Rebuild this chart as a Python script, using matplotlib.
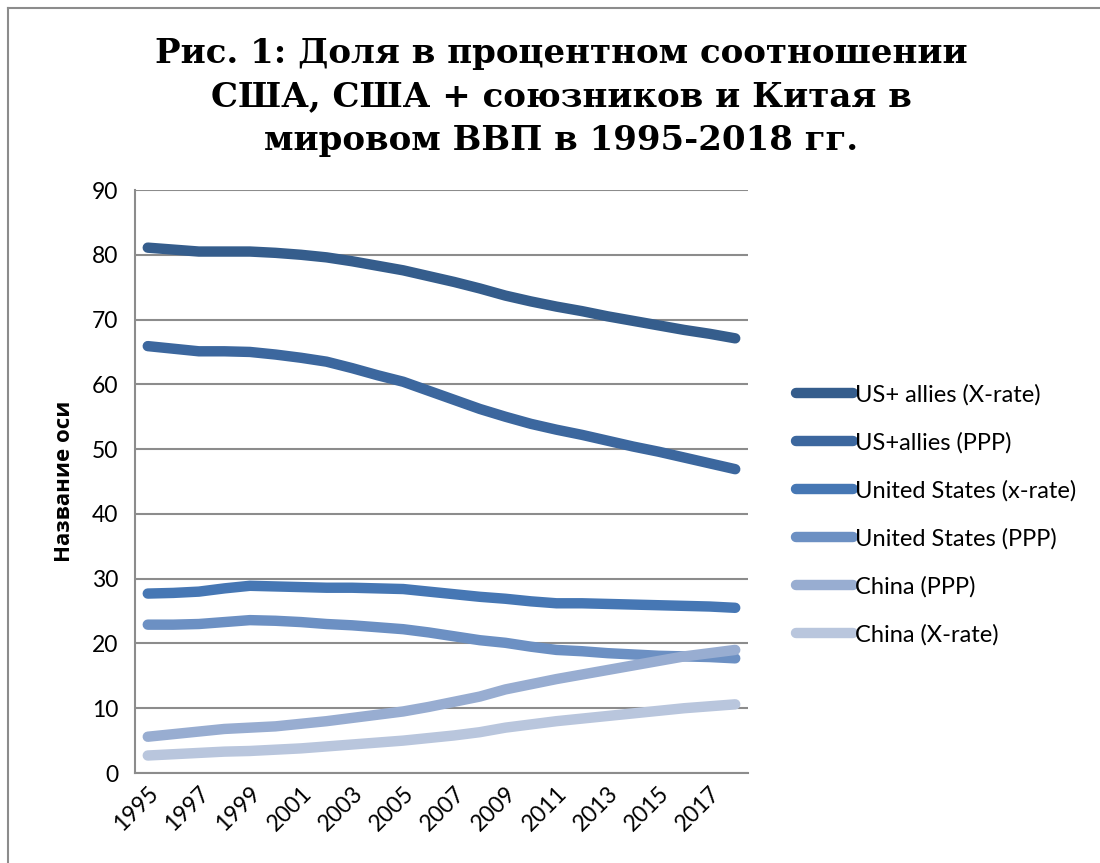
import matplotlib
matplotlib.use('Agg')
import matplotlib.pyplot as plt
from matplotlib.lines import Line2D

years = list(range(1995, 2019))
tick_years = list(range(1995, 2018, 2))

us_allies_xrate = [81.1, 80.8, 80.5, 80.5, 80.5, 80.3, 80.0, 79.6, 79.0, 78.3, 77.6, 76.7,
                   75.8, 74.8, 73.7, 72.8, 72.0, 71.3, 70.5, 69.8, 69.1, 68.4, 67.8, 67.1]
us_allies_ppp = [65.9, 65.5, 65.1, 65.1, 65.0, 64.6, 64.1, 63.5, 62.5, 61.4, 60.4, 59.0,
                 57.6, 56.2, 55.0, 53.9, 53.0, 52.2, 51.3, 50.4, 49.6, 48.7, 47.8, 46.9]
us_xrate = [27.7, 27.8, 28.0, 28.5, 28.9, 28.8, 28.7, 28.6, 28.6, 28.5, 28.4, 28.0,
            27.6, 27.2, 26.9, 26.5, 26.2, 26.2, 26.1, 26.0, 25.9, 25.8, 25.7, 25.5]
us_ppp = [22.9, 22.9, 23.0, 23.3, 23.6, 23.5, 23.3, 23.0, 22.8, 22.5, 22.2, 21.7,
          21.1, 20.5, 20.1, 19.5, 19.0, 18.8, 18.5, 18.3, 18.1, 18.0, 17.9, 17.7]
china_ppp = [5.6, 6.0, 6.4, 6.8, 7.0, 7.2, 7.6, 8.0, 8.5, 9.0, 9.5, 10.2,
             11.0, 11.8, 12.9, 13.7, 14.5, 15.2, 15.9, 16.6, 17.3, 18.0, 18.5, 19.0]
china_xrate = [2.7, 2.9, 3.1, 3.3, 3.4, 3.6, 3.8, 4.1, 4.4, 4.7, 5.0, 5.4,
               5.8, 6.3, 7.0, 7.5, 8.0, 8.4, 8.8, 9.2, 9.6, 10.0, 10.3, 10.6]

series = [
    ('US+ allies (X-rate)', us_allies_xrate, '#355d8c'),
    ('US+allies (PPP)', us_allies_ppp, '#3c679e'),
    ('United States (x-rate)', us_xrate, '#4677b4'),
    ('United States (PPP)', us_ppp, '#6c90c3'),
    ('China (PPP)', china_ppp, '#98add1'),
    ('China (X-rate)', china_xrate, '#b9c6dd'),
]

title = 'Рис. 1: Доля в процентном соотношении\nСША, США + союзников и Китая в\nмировом ВВП в 1995-2018 гг.'

plt.rcParams['font.family'] = ['Lato', 'DejaVu Sans']

fig = plt.figure(figsize=(11, 8.63), dpi=100)
ax = fig.add_axes([135 / 1100, 1 - 773 / 863, (748 - 135) / 1100, (773 - 190) / 863])

x = list(range(len(years)))
for name, vals, col in series:
    ax.plot(x, vals, color=col, lw=7.5, solid_capstyle='round', label=name)

ax.set_xlim(-0.5, len(years) - 0.5)
ax.set_ylim(0, 90)
ax.set_yticks(range(0, 91, 10))
ax.set_xticks([years.index(y) for y in tick_years])
ax.set_xticklabels([str(y) for y in tick_years], rotation=45, ha='right',
                   rotation_mode='anchor', fontsize=16.5)
ax.tick_params(axis='y', labelsize=16.5, length=0, pad=12)
ax.tick_params(axis='x', length=0, pad=7)
ax.grid(axis='y', color='#8c8c8c', lw=1.5)
ax.set_axisbelow(True)
for s in ['top', 'right']:
    ax.spines[s].set_visible(False)
for s in ['left', 'bottom']:
    ax.spines[s].set_color('#8c8c8c')
    ax.spines[s].set_linewidth(1.5)

ax.set_ylabel('Название оси', fontsize=16, fontweight='bold', labelpad=12,
              family=['Open Sans', 'DejaVu Sans'])

fig.text(0.51, 0.957, title, ha='center', va='top', fontsize=24.5, fontweight='bold',
         family=['DejaVu Serif'], linespacing=1.4)

ax.legend(loc='center left', bbox_to_anchor=(1.044, 0.443), frameon=False, fontsize=17,
          handlelength=2.4, handletextpad=0.1, labelspacing=1.12)

# outer frame (left and top edges visible)
fig.add_artist(Line2D([8 / 1100, 8 / 1100], [0, 1 - 8 / 863], transform=fig.transFigure,
                      color='#8c8c8c', lw=1.5))
fig.add_artist(Line2D([8 / 1100, 1], [1 - 8 / 863, 1 - 8 / 863], transform=fig.transFigure,
                      color='#8c8c8c', lw=1.5))

fig.savefig('out.png', dpi=100)
